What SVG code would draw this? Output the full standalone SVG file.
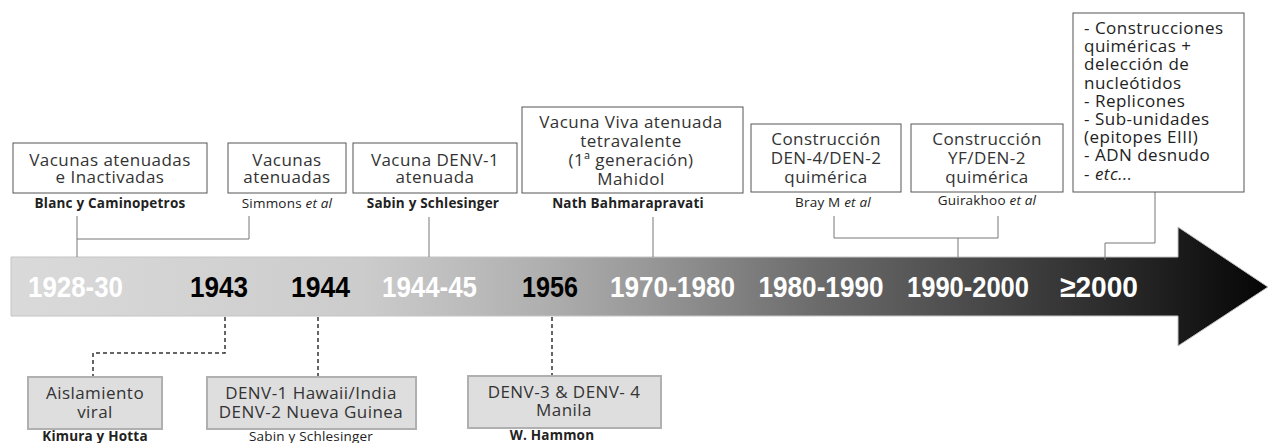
<svg xmlns="http://www.w3.org/2000/svg" width="1271" height="443" viewBox="0 0 1271 443">
<style>
.box{fill:#fff;stroke:#555;stroke-width:1}
.gbox{fill:#dedede;stroke:#b0b0b0;stroke-width:2}
.t{font-family:"Open Sans","DejaVu Sans",sans-serif;font-size:17px;fill:#333;text-anchor:middle;letter-spacing:0.45px}
.tl{font-family:"Open Sans","DejaVu Sans",sans-serif;font-size:17px;fill:#222;letter-spacing:0.5px}
.a{font-family:"Open Sans","DejaVu Sans",sans-serif;font-size:13.5px;fill:#222;text-anchor:middle;font-weight:bold;letter-spacing:0.2px}
.an{font-family:"Open Sans","DejaVu Sans",sans-serif;font-size:13.5px;fill:#222;text-anchor:middle;letter-spacing:0.2px}
.y{font-family:"Liberation Sans",Arial,sans-serif;font-size:30px;font-weight:bold;text-anchor:middle}
.w{fill:#fff}
.k{fill:#000}
.c{fill:none;stroke:#777;stroke-width:1}
.d{fill:none;stroke:#333;stroke-width:1.5;stroke-dasharray:4,3}
</style>
<defs>
<linearGradient id="g" gradientUnits="userSpaceOnUse" x1="10" y1="0" x2="1268" y2="0">
<stop offset="0" stop-color="#dadada"/>
<stop offset="0.28" stop-color="#cccccc"/>
<stop offset="0.42" stop-color="#b0b0b0"/>
<stop offset="0.5" stop-color="#9a9a9a"/>
<stop offset="0.64" stop-color="#6c6c6c"/>
<stop offset="0.77" stop-color="#494949"/>
<stop offset="0.9" stop-color="#242424"/>
<stop offset="1" stop-color="#050505"/>
</linearGradient>
</defs>
<rect width="1271" height="443" fill="#fff"/>
<g id="timeline">
<path d="M11,257 H1178 V227 L1268,287 L1178,346 V316 H11 Z" fill="url(#g)" stroke="#c4c4c4" stroke-width="1"/>
<text class="y w" x="75.5" y="297" textLength="95" lengthAdjust="spacingAndGlyphs">1928-30</text>
<text class="y k" x="219" y="297" textLength="58" lengthAdjust="spacingAndGlyphs">1943</text>
<text class="y k" x="320.5" y="297" textLength="59" lengthAdjust="spacingAndGlyphs">1944</text>
<text class="y w" x="429.5" y="297" textLength="95" lengthAdjust="spacingAndGlyphs">1944-45</text>
<text class="y k" x="550" y="297" textLength="56" lengthAdjust="spacingAndGlyphs">1956</text>
<text class="y w" x="672.5" y="297" textLength="125" lengthAdjust="spacingAndGlyphs">1970-1980</text>
<text class="y w" x="821" y="297" textLength="125" lengthAdjust="spacingAndGlyphs">1980-1990</text>
<text class="y w" x="968" y="297" textLength="122" lengthAdjust="spacingAndGlyphs">1990-2000</text>
<text class="y w" x="1099" y="297" textLength="78" lengthAdjust="spacingAndGlyphs">≥2000</text>
</g>
<g id="connectors">
<path class="c" d="M77,216 V257 M77,239 H249 V216"/>
<path class="c" d="M429,217 V257"/>
<path class="c" d="M653,217 V257"/>
<path class="c" d="M834,216 V238 H998 V216 M958,238 V257"/>
<path class="c" d="M1155,192 V243 H1105 V260"/>
<path class="d" d="M225,317 V353 H93 V377"/>
<path class="d" d="M318,317 V377"/>
<path class="d" d="M552,317 V376"/>
</g>
<g id="n1">
<rect class="box" x="13" y="143" width="194" height="50"/>
<text class="t" x="110" y="166">Vacunas atenuadas</text>
<text class="t" x="110" y="183">e Inactivadas</text>
<text class="a" x="110" y="208">Blanc y Caminopetros</text>
</g>
<g id="n2">
<rect class="box" x="228" y="143" width="118" height="50"/>
<text class="t" x="287" y="166">Vacunas</text>
<text class="t" x="287" y="183">atenuadas</text>
<text class="an" x="287" y="208">Simmons <tspan font-style="italic">et al</tspan></text>
</g>
<g id="n3">
<rect class="box" x="353" y="143" width="164" height="50"/>
<text class="t" x="435" y="166">Vacuna DENV-1</text>
<text class="t" x="435" y="183">atenuada</text>
<text class="a" x="433" y="208">Sabin  y Schlesinger</text>
</g>
<g id="n4">
<rect class="box" x="522" y="107" width="221" height="86"/>
<text class="t" x="631" y="128">Vacuna Viva atenuada</text>
<text class="t" x="631" y="147">tetravalente</text>
<text class="t" x="631" y="166">(1ª generación)</text>
<text class="t" x="631" y="185">Mahidol</text>
<text class="a" x="628" y="208">Nath Bahmarapravati</text>
</g>
<g id="n5">
<rect class="box" x="751" y="124" width="150" height="68"/>
<text class="t" x="826" y="145">Construcción</text>
<text class="t" x="826" y="164">DEN-4/DEN-2</text>
<text class="t" x="826" y="183">quimérica</text>
<text class="an" x="833" y="207">Bray M <tspan font-style="italic">et al</tspan></text>
</g>
<g id="n6">
<rect class="box" x="911" y="124" width="152" height="68"/>
<text class="t" x="987" y="145">Construcción</text>
<text class="t" x="987" y="164">YF/DEN-2</text>
<text class="t" x="987" y="183">quimérica</text>
<text class="an" x="987" y="205">Guirakhoo <tspan font-style="italic">et al</tspan></text>
</g>
<g id="n7">
<rect class="box" x="1073" y="13" width="171" height="179"/>
<text class="tl" x="1084" y="34">- Construcciones</text>
<text class="tl" x="1084" y="52">quiméricas  +</text>
<text class="tl" x="1084" y="70">delección de</text>
<text class="tl" x="1084" y="89">nucleótidos</text>
<text class="tl" x="1084" y="107">- Replicones</text>
<text class="tl" x="1084" y="125">- Sub-unidades</text>
<text class="tl" x="1084" y="143">(epitopes EIII)</text>
<text class="tl" x="1084" y="161">- ADN desnudo</text>
<text class="tl" x="1084" y="180">- <tspan font-style="italic">etc...</tspan></text>
</g>
<g id="n8">
<rect class="gbox" x="28" y="377" width="134" height="52"/>
<text class="t" x="95" y="399">Aislamiento</text>
<text class="t" x="95" y="418">viral</text>
<text class="a" x="95" y="441">Kimura y Hotta</text>
</g>
<g id="n9">
<rect class="gbox" x="207" y="377" width="209" height="52"/>
<text class="t" x="311" y="399">DENV-1 Hawaii/India</text>
<text class="t" x="311" y="418">DENV-2 Nueva Guinea</text>
<text class="an" x="311" y="441">Sabin  y Schlesinger</text>
</g>
<g id="n10">
<rect class="gbox" x="468" y="376" width="193" height="52"/>
<text class="t" x="564" y="398">DENV-3 &amp; DENV- 4</text>
<text class="t" x="564" y="416">Manila</text>
<text class="a" x="552" y="440">W. Hammon</text>
</g>
</svg>
